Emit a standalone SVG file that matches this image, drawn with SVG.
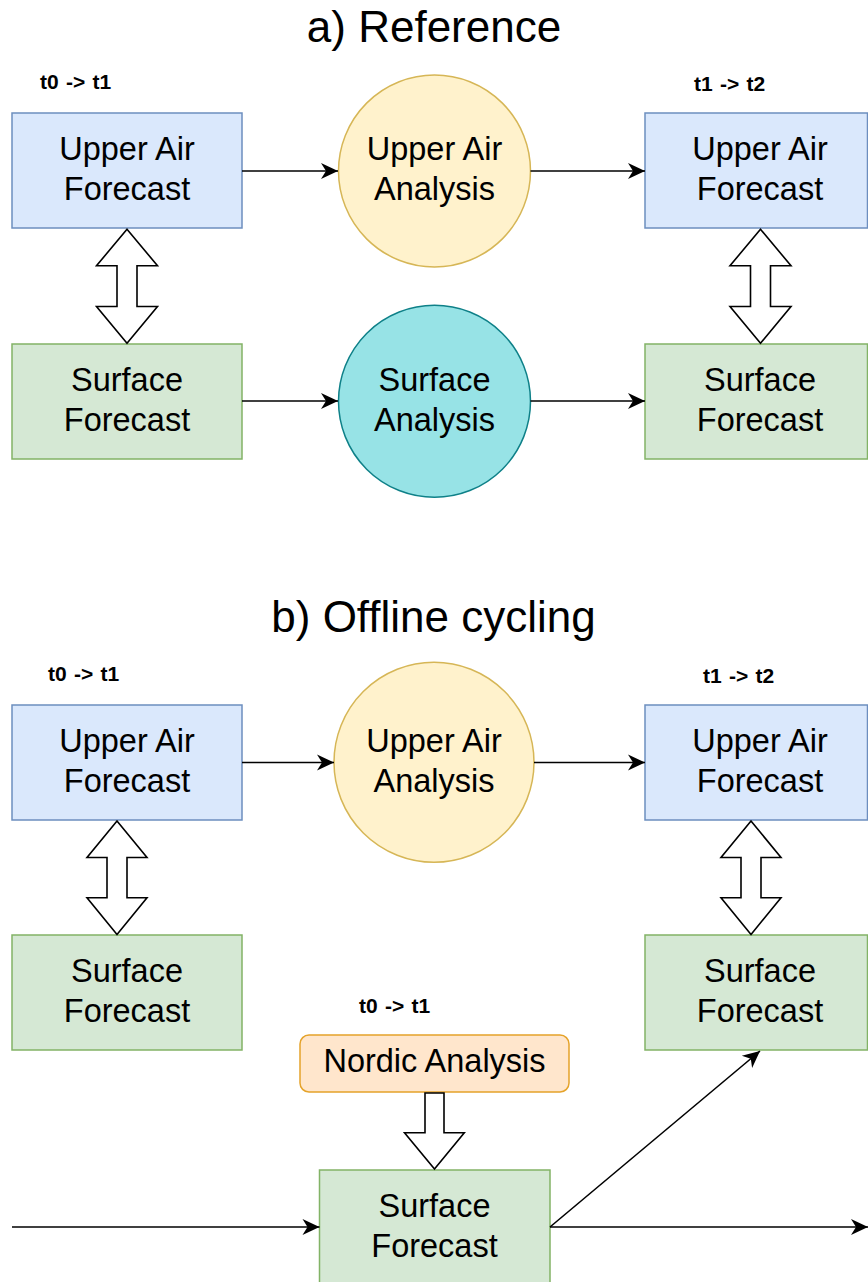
<svg xmlns="http://www.w3.org/2000/svg" width="868" height="1282" viewBox="0 0 868 1282">
  <defs>
    <style>
      text { font-family: "Liberation Sans", Arial, Helvetica, sans-serif; fill: #000; }
      .title { font-size: 44px; text-anchor: middle; }
      .lbl { font-size: 32.5px; text-anchor: middle; }
      .time { font-size: 21px; font-weight: bold; word-spacing: 1.5px; }
      .upper { fill: #dae8fc; stroke: #6c8ebf; stroke-width: 1.5; }
      .surf { fill: #d5e8d4; stroke: #82b366; stroke-width: 1.5; }
      .ua-an { fill: #fff2cc; stroke: #d6b656; stroke-width: 1.5; }
      .sf-an { fill: #97e3e6; stroke: #0e8088; stroke-width: 1.5; }
      .nordic { fill: #ffe6cc; stroke: #e5a32a; stroke-width: 1.5; }
      .flow { fill: none; stroke: #000; stroke-width: 1.6; marker-end: url(#head); }
      .block { fill: #fff; stroke: #000; stroke-width: 1.6; stroke-linejoin: miter; }
    </style>
    <marker id="head" markerUnits="userSpaceOnUse" viewBox="-18 -9 19 18" refX="0" refY="0" markerWidth="19" markerHeight="18" orient="auto">
      <path d="M-17,-8 L0,0 L-17,8 L-12,0 Z" fill="#000"/>
    </marker>
  </defs>

  <rect width="868" height="1282" fill="#fff"/>

  <!-- a) Reference -->
  <text class="title" x="434" y="42">a) Reference</text>
  <text class="time" x="40" y="89">t0 -&gt; t1</text>
  <text class="time" x="694" y="91">t1 -&gt; t2</text>

  <g id="a-upper-forecast-t0">
    <rect class="upper" x="12" y="113" width="230" height="115"/>
    <text class="lbl" x="127" y="160">Upper Air</text>
    <text class="lbl" x="127" y="199.5">Forecast</text>
  </g>
  <g id="a-upper-analysis">
    <circle class="ua-an" cx="434.5" cy="171" r="96"/>
    <text class="lbl" x="434.5" y="160">Upper Air</text>
    <text class="lbl" x="434.5" y="200">Analysis</text>
  </g>
  <g id="a-upper-forecast-t1">
    <rect class="upper" x="645" y="113" width="222.5" height="115"/>
    <text class="lbl" x="760" y="160">Upper Air</text>
    <text class="lbl" x="760" y="199.5">Forecast</text>
  </g>
  <g id="a-surface-forecast-t0">
    <rect class="surf" x="12" y="344" width="230" height="115"/>
    <text class="lbl" x="127" y="391">Surface</text>
    <text class="lbl" x="127" y="430.5">Forecast</text>
  </g>
  <g id="a-surface-analysis">
    <circle class="sf-an" cx="434.5" cy="401.3" r="96"/>
    <text class="lbl" x="434.5" y="390.5">Surface</text>
    <text class="lbl" x="434.5" y="430.5">Analysis</text>
  </g>
  <g id="a-surface-forecast-t1">
    <rect class="surf" x="645" y="344" width="222.5" height="115"/>
    <text class="lbl" x="760" y="391">Surface</text>
    <text class="lbl" x="760" y="430.5">Forecast</text>
  </g>

  <!-- b) Offline cycling -->
  <text class="title" x="433.5" y="631.5">b) Offline cycling</text>
  <text class="time" x="48" y="681">t0 -&gt; t1</text>
  <text class="time" x="703" y="683">t1 -&gt; t2</text>
  <text class="time" x="359" y="1013">t0 -&gt; t1</text>

  <g id="b-upper-forecast-t0">
    <rect class="upper" x="12" y="705" width="230" height="115"/>
    <text class="lbl" x="127" y="752">Upper Air</text>
    <text class="lbl" x="127" y="791.5">Forecast</text>
  </g>
  <g id="b-upper-analysis">
    <circle class="ua-an" cx="434" cy="762.3" r="100"/>
    <text class="lbl" x="434" y="751.7">Upper Air</text>
    <text class="lbl" x="434" y="791.7">Analysis</text>
  </g>
  <g id="b-upper-forecast-t1">
    <rect class="upper" x="645" y="705" width="222.5" height="115"/>
    <text class="lbl" x="760" y="752">Upper Air</text>
    <text class="lbl" x="760" y="791.5">Forecast</text>
  </g>
  <g id="b-surface-forecast-t0">
    <rect class="surf" x="12" y="935" width="230" height="115"/>
    <text class="lbl" x="127" y="982">Surface</text>
    <text class="lbl" x="127" y="1021.5">Forecast</text>
  </g>
  <g id="b-surface-forecast-t1">
    <rect class="surf" x="645" y="935" width="222.5" height="115"/>
    <text class="lbl" x="760" y="982">Surface</text>
    <text class="lbl" x="760" y="1021.5">Forecast</text>
  </g>
  <g id="b-nordic-analysis">
    <rect class="nordic" x="300" y="1035" width="269" height="57" rx="9"/>
    <text class="lbl" x="434.5" y="1072">Nordic Analysis</text>
  </g>
  <g id="b-surface-forecast-offline">
    <rect class="surf" x="319.5" y="1170" width="230.5" height="115"/>
    <text class="lbl" x="434.5" y="1217">Surface</text>
    <text class="lbl" x="434.5" y="1256.5">Forecast</text>
  </g>

  <!-- connectors -->
  <g id="connectors">
    <!-- a: forward in time -->
    <line class="flow" x1="242" y1="171" x2="338" y2="171"/>
    <line class="flow" x1="530.5" y1="171" x2="645" y2="171"/>
    <line class="flow" x1="242" y1="401" x2="338" y2="401"/>
    <line class="flow" x1="530.5" y1="401" x2="645" y2="401"/>
    <!-- a: coupling arrows -->
    <polygon class="block" points="127,229.3 157.5,265.7 137,265.7 137,306.5 157.5,306.5 127,343.3 96.5,306.5 117,306.5 117,265.7 96.5,265.7"/>
    <polygon class="block" points="760.5,229.3 791,265.7 770.5,265.7 770.5,306.5 791,306.5 760.5,343.3 730,306.5 750.5,306.5 750.5,265.7 730,265.7"/>

    <!-- b: forward in time -->
    <line class="flow" x1="242" y1="762.5" x2="334" y2="762.5"/>
    <line class="flow" x1="534" y1="762.5" x2="645" y2="762.5"/>
    <!-- b: coupling arrows -->
    <polygon class="block" points="117,821 147,857.5 127,857.5 127,897.7 147,897.7 117,934.5 87,897.7 107,897.7 107,857.5 87,857.5"/>
    <polygon class="block" points="751,821 781,857.5 761,857.5 761,897.7 781,897.7 751,934.5 721,897.7 741,897.7 741,857.5 721,857.5"/>
    <!-- b: Nordic analysis into offline surface forecast -->
    <polygon class="block" points="425,1093 444,1093 444,1132.7 464.3,1132.7 434.5,1169 404.5,1132.7 425,1132.7"/>
    <!-- b: offline surface cycle -->
    <line class="flow" x1="12" y1="1227" x2="319.5" y2="1227"/>
    <line class="flow" x1="550" y1="1227" x2="868" y2="1227"/>
    <line class="flow" x1="550" y1="1227" x2="760" y2="1051"/>
  </g>
</svg>
